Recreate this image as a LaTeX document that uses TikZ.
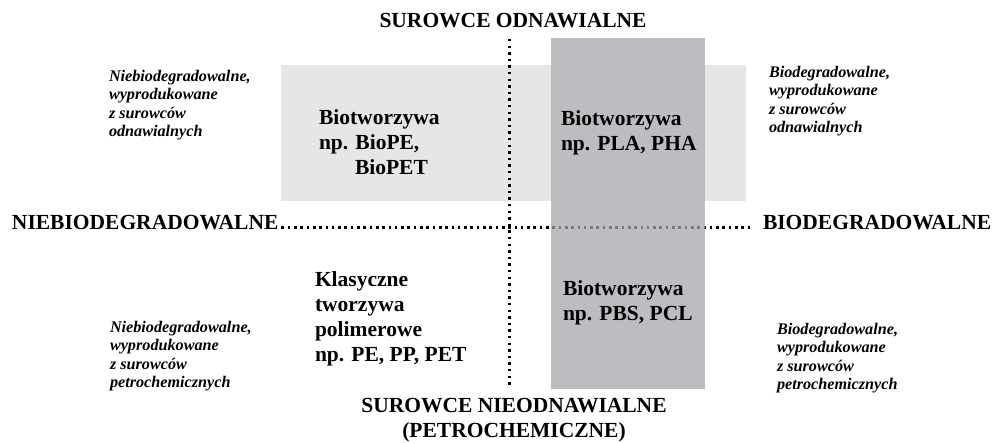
\documentclass[tikz,border=0pt]{standalone}
\usepackage{fontspec}
\setmainfont{Liberation Serif}
\definecolor{lightbox}{HTML}{E6E6E6}
\definecolor{darkbox}{HTML}{BCBDC0}
\definecolor{dotgray}{HTML}{7A7A7A}
\begin{document}
\begin{tikzpicture}[x={(1pt,0)},y={(0,-1pt)},
  big/.style={inner sep=0pt,outer sep=0pt,font=\fontsize{21.5}{24.8}\selectfont\bfseries,align=left},
  small/.style={inner sep=0pt,outer sep=0pt,font=\fontsize{16.2}{18.5}\selectfont\bfseries\itshape,align=left},
  vdots/.style={line width=2.4pt,dash pattern=on 2.4pt off 4.2pt},
  hdots/.style={line width=2.6pt,dash pattern=on 2.6pt off 3.7pt}]
\useasboundingbox (0,0) rectangle (992,442);
% boxes
\fill[lightbox] (281,64.5) rectangle (746,200.5);
\fill[darkbox] (550.5,38) rectangle (705,389);
% axis labels
\node[big,anchor=base] (top) at (513,27) {SUROWCE ODNAWIALNE};
\node[big,anchor=base west] (nieb) at (12,229) {NIEBIODEGRADOWALNE};
\node[big,anchor=base west] (biod) at (763,229) {BIODEGRADOWALNE};
\node[big,anchor=base,align=center] (bot) at (514,437) {SUROWCE NIEODNAWIALNE\\(PETROCHEMICZNE)};
% axes
\coordinate (vt) at (509.3,39);
\coordinate (vb) at (509.3,388);
\draw[vdots] (vt) -- (vb);
\draw[hdots] ([xshift=3pt,yshift=1.3pt]nieb.base east) -- ([xshift=-13pt,yshift=1.3pt]biod.base west);
\begin{scope}
\clip (550.5,38) rectangle (705,389);
\draw[hdots,dotgray] ([xshift=3pt,yshift=1.3pt]nieb.base east) -- ([xshift=-13pt,yshift=1.3pt]biod.base west);
\end{scope}
% category texts (base = last line)
\node[big,anchor=base west] (q1) at (319,174) {Biotworzywa\\np. BioPE,\\\hspace*{36pt}BioPET};
\node[big,anchor=base west] (q2) at (561,150) {Biotworzywa\\np. PLA, PHA};
\node[big,anchor=base west] (q3) at (315,361) {Klasyczne\\tworzywa\\polimerowe\\np. PE, PP, PET};
\node[big,anchor=base west] (q4) at (563,320) {Biotworzywa\\np. PBS, PCL};
% side notes
\node[small,anchor=base west] (n1) at (109,136.5) {Niebiodegradowalne,\\wyprodukowane\\z surowców\\odnawialnych};
\node[small,anchor=base west] (n2) at (769,132.5) {Biodegradowalne,\\wyprodukowane\\z surowców\\odnawialnych};
\node[small,anchor=base west] (n3) at (110,387.5) {Niebiodegradowalne,\\wyprodukowane\\z surowców\\petrochemicznych};
\node[small,anchor=base west] (n4) at (777,389.5) {Biodegradowalne,\\wyprodukowane\\z surowców\\petrochemicznych};
\end{tikzpicture}
\end{document}
